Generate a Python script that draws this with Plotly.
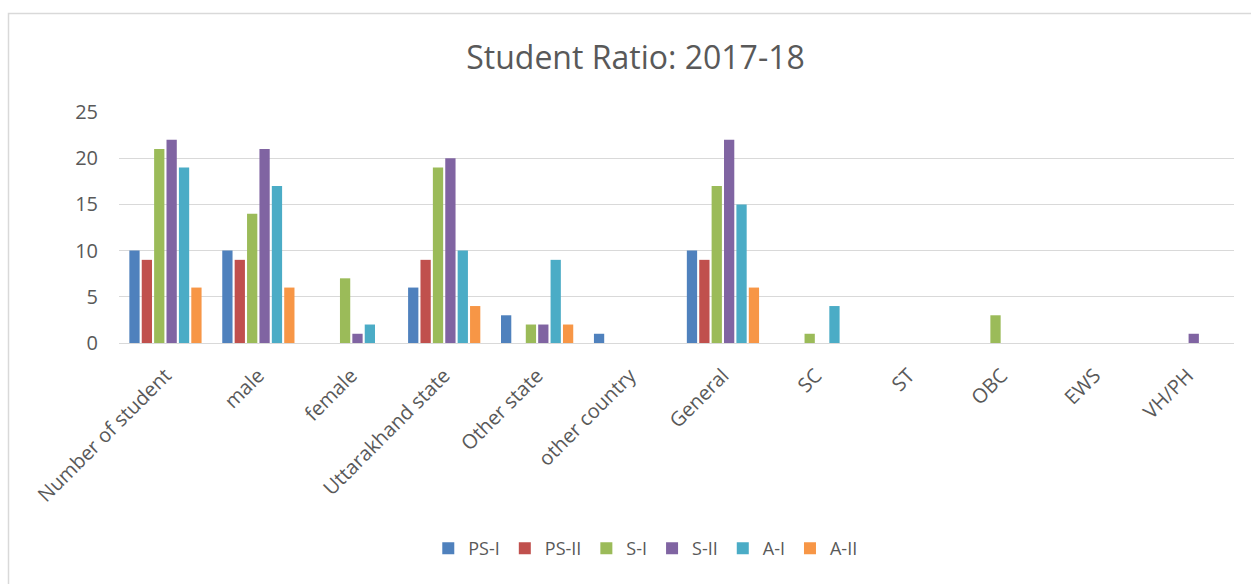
import plotly.graph_objects as go

categories = ["Number of student", "male", "female", "Uttarakhand state", "Other state",
              "other country", "General", "SC", "ST", "OBC", "EWS", "VH/PH"]
series_names = ["PS-I", "PS-II", "S-I", "S-II", "A-I", "A-II"]
ps1 = [10, 10, 0, 6, 3, 1, 10, 0, 0, 0, 0, 0]
ps2 = [9, 9, 0, 9, 0, 0, 9, 0, 0, 0, 0, 0]
s1 = [21, 14, 7, 19, 2, 0, 17, 1, 0, 3, 0, 0]
s2 = [22, 21, 1, 20, 2, 0, 22, 0, 0, 0, 0, 1]
a1 = [19, 17, 2, 10, 9, 0, 15, 4, 0, 0, 0, 0]
a2 = [6, 6, 0, 4, 2, 0, 6, 0, 0, 0, 0, 0]
y_ticks = [0, 5, 10, 15, 20, 25]
title_text = "Student Ratio: 2017-18"

colors = ["#4F81BD", "#C0504D", "#9BBB59", "#8064A2", "#4BACC6", "#F79646"]
values = [ps1, ps2, s1, s2, a1, a2]

font_family = "Open Sans, Lato, sans-serif"
text_color = "#595959"

fig = go.Figure()
for name, vals, col in zip(series_names, values, colors):
    fig.add_trace(go.Bar(x=categories, y=vals, name=name,
                         marker=dict(color=col, line=dict(width=0))))

fig.update_layout(
    width=1251, height=584,
    margin=dict(l=119, r=17, t=112, b=241, autoexpand=False),
    paper_bgcolor="white", plot_bgcolor="white",
    barmode="group", bargap=0.2, bargroupgap=0.17,
    title=dict(text=title_text, x=0.508, xref="container", xanchor="center",
               y=1 - 58 / 584, yref="container", yanchor="middle",
               font=dict(family=font_family, size=32, color=text_color)),
    legend=dict(orientation="h", x=0.472, xanchor="center", y=-0.89, yanchor="middle",
                font=dict(family=font_family, size=18, color=text_color),
                itemwidth=30, traceorder="normal"),
    font=dict(family=font_family, color=text_color),
)
fig.update_yaxes(range=[0, 25], tickvals=y_ticks, showgrid=True, gridcolor="#D9D9D9",
                 gridwidth=1, zeroline=True, zerolinecolor="#D9D9D9", zerolinewidth=1,
                 showline=False, ticks="", ticklabelstandoff=20,
                 tickfont=dict(family=font_family, size=20, color=text_color))
fig.update_xaxes(tickangle=-45, showline=False, ticks="", showgrid=False,
                 ticklabelstandoff=16,
                 tickfont=dict(family=font_family, size=20, color=text_color))

fig.add_shape(type="rect", xref="paper", yref="paper",
              x0=(8.5 - 119) / 1115, x1=1.05, y0=-1.3, y1=(343 - 13.5) / 231,
              line=dict(color="#D9D9D9", width=1.5), fillcolor="rgba(0,0,0,0)",
              layer="below")

fig.write_html("out.html", config={"displayModeBar": False},
               post_script="document.body.style.margin='0';document.body.style.overflow='hidden';")
